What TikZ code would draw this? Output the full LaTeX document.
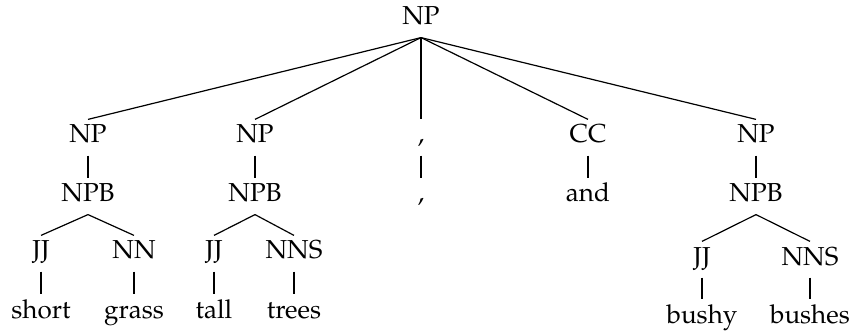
\documentclass[tikz,border=0pt]{standalone}
\usepackage[T1]{fontenc}
\usepackage{mathpazo}
\begin{document}
\begin{tikzpicture}[x=0.5pt,y=0.5pt,line width=.6pt,
	every node/.style={font=\fontsize{13}{15}\selectfont,anchor=base,inner sep=2.5pt,text height=9pt,text depth=3.5pt}]

				\useasboundingbox (0,0) rectangle (851,332);

				\node (np) at (421,307) {NP};

				\node (np-1) at (88,189) {NP};
				\node (np-2) at (255,189) {NP};
				\node (comma-1) at (421,189) {,};
				\node (cc) at (588,189) {CC};
				\node (np-3) at (756,189) {NP};

				\node (npb-1) at (88,130) {NPB};
				\node (npb-2) at (255,130) {NPB};
				\node (comma-2) at (421,130) {,};
				\node (and) at (588,130) {and};
				\node (npb-3) at (756,130) {NPB};

				\node (jj-1) at (41,73) {JJ};
				\node (nn-1) at (134,73) {NN};
				\node (jj-2) at (214,73) {JJ};
				\node (nns-2) at (294,73) {NNS};
				\node (jj-3) at (702,67) {JJ};
				\node (nns-3) at (810,67) {NNS};

				\node (short) at (41,14) {short};
				\node (grass) at (134,14) {grass};
				\node (tall) at (214,14) {tall};
				\node (trees) at (294,14) {trees};
				\node (bushy) at (702,9) {bushy};
				\node (bushes) at (810,9) {bushes};

				% top level
				\draw (np.south) -- (np-1.north);
				\draw (np.south) -- (np-2.north);
				\draw (np.south) -- (comma-1.north);
				\draw (np.south) -- (cc.north);
				\draw (np.south) -- (np-3.north);

				\draw (np-1) -- (npb-1);
				\draw (np-2) -- (npb-2);
				\draw (comma-1) -- (comma-2);
				\draw (cc) -- (and);
				\draw (np-3) -- (npb-3);

				\draw (npb-1.south) -- (jj-1.north);
				\draw (npb-1.south) -- (nn-1.north);
				\draw (npb-2.south) -- (jj-2.north);
				\draw (npb-2.south) -- (nns-2.north);
				\draw (npb-3.south) -- (jj-3.north);
				\draw (npb-3.south) -- (nns-3.north);

				% words
				\draw (jj-1) -- (short);
				\draw (nn-1) -- (grass);
				\draw (jj-2) -- (tall);
				\draw (nns-2) -- (trees);
				\draw (jj-3) -- (bushy);
				\draw (nns-3) -- (bushes);

			\end{tikzpicture}
\end{document}
